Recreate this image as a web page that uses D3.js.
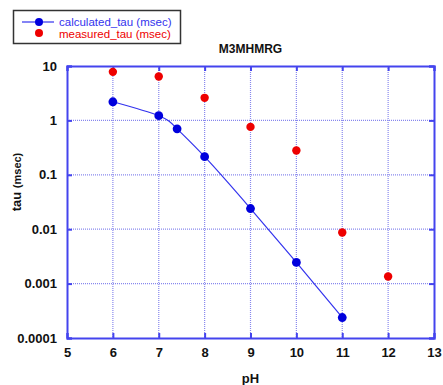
<!DOCTYPE html>
<html><head><meta charset="utf-8">
<script src="https://cdn.jsdelivr.net/npm/d3@7"></script>
<style>
body{margin:0;background:#fff;}
svg{display:block;font-family:"Liberation Sans",Arial,sans-serif;}
</style></head>
<body><svg id="chart" width="443" height="385"></svg>
<script>
// pH values and time constants (msec)
const calcPH  = [6, 7, 7.4, 8, 9, 10, 11];
const calcTau = [2.2, 1.22, 0.70, 0.215, 0.024, 0.00245, 0.000238];
const measPH  = [6, 7, 8, 9, 10, 11, 12];
const measTau = [7.8, 6.4, 2.6, 0.76, 0.28, 0.0087, 0.00135];
const xTicks = [5, 6, 7, 8, 9, 10, 11, 12, 13];
const yTicks = [10, 1, 0.1, 0.01, 0.001, 0.0001];
const yTickLabels = ["10", "1", "0.1", "0.01", "0.001", "0.0001"];

const svg = d3.select("#chart");
const L = 67, R = 434, T = 66, B = 338;
const x = d3.scaleLinear().domain([5, 13]).range([L, R]);
const y = d3.scaleLog().domain([0.0001, 10]).range([B, T]);
const frameCol = "#4444ee", gridCol = "#8888ee";

// dotted grid
const grid = svg.append("g");
grid.selectAll("line.gx").data(xTicks.slice(1, -1)).join("line")
  .attr("x1", d => x(d)).attr("x2", d => x(d)).attr("y1", T).attr("y2", B)
  .attr("stroke", gridCol).attr("stroke-width", 1.2).attr("stroke-dasharray", "1,1");
grid.selectAll("line.gy").data(yTicks.slice(1, -1)).join("line")
  .attr("y1", d => y(d)).attr("y2", d => y(d)).attr("x1", L).attr("x2", R)
  .attr("stroke", gridCol).attr("stroke-width", 1.2).attr("stroke-dasharray", "1,1");

// axes with inward ticks
const axB = svg.append("g").attr("transform", `translate(0,${B})`)
  .call(d3.axisBottom(x).tickValues(xTicks).tickSize(-5).tickPadding(10));
const axT = svg.append("g").attr("transform", `translate(0,${T})`)
  .call(d3.axisTop(x).tickValues(xTicks).tickSize(-5).tickFormat(""));
const axL = svg.append("g").attr("transform", `translate(${L},0)`)
  .call(d3.axisLeft(y).tickValues(yTicks).tickSize(-5).tickPadding(10)
    .tickFormat((d, i) => yTickLabels[i]));
const axR = svg.append("g").attr("transform", `translate(${R},0)`)
  .call(d3.axisRight(y).tickValues(yTicks).tickSize(-5).tickFormat(""));
[axB, axT, axL, axR].forEach(a => {
  a.select(".domain").attr("stroke", frameCol).attr("stroke-width", 2);
  a.selectAll(".tick line").attr("stroke", frameCol).attr("stroke-width", 2);
  a.selectAll(".tick text").attr("fill", "#111").attr("font-size", 13)
    .attr("font-weight", "bold").attr("font-family", "\"Liberation Sans\",Arial,sans-serif");
});

// calculated curve
const calc = calcPH.map((p, i) => [p, calcTau[i]]);
svg.append("path").datum(calc)
  .attr("d", d3.line().x(d => x(d[0])).y(d => y(d[1])).curve(d3.curveNatural))
  .attr("fill", "none").attr("stroke", "#3333ee").attr("stroke-width", 1.2);
svg.selectAll("circle.calc").data(calc).join("circle")
  .attr("cx", d => x(d[0])).attr("cy", d => y(d[1])).attr("r", 4.4).attr("fill", "#0000dd");

// measured points
const meas = measPH.map((p, i) => [p, measTau[i]]);
svg.selectAll("circle.meas").data(meas).join("circle")
  .attr("cx", d => x(d[0])).attr("cy", d => y(d[1])).attr("r", 4.2).attr("fill", "#ee0000");

// title and axis labels
svg.append("text").attr("x", (L + R) / 2).attr("y", 53).attr("text-anchor", "middle")
  .attr("font-size", 12).attr("font-weight", "bold").attr("fill", "#111").text("M3MHMRG");
svg.append("text").attr("x", (L + R) / 2).attr("y", 383).attr("text-anchor", "middle")
  .attr("font-size", 13).attr("font-weight", "bold").attr("fill", "#111").text("pH");
const yl = svg.append("text").attr("transform", `translate(21,182) rotate(-90)`)
  .attr("text-anchor", "middle").attr("font-weight", "bold").attr("fill", "#111");
yl.append("tspan").attr("font-size", 13).text("tau ");
yl.append("tspan").attr("font-size", 11).text("(msec)");

// legend
const lg = svg.append("g");
lg.append("rect").attr("x", 13.5).attr("y", 10.5).attr("width", 167).attr("height", 33)
  .attr("fill", "#fff").attr("stroke", "#333").attr("stroke-width", 1.5);
lg.append("line").attr("x1", 22).attr("x2", 54).attr("y1", 22).attr("y2", 22)
  .attr("stroke", "#3333ee").attr("stroke-width", 1.2);
lg.append("circle").attr("cx", 39).attr("cy", 22).attr("r", 4).attr("fill", "#0000dd");
lg.append("circle").attr("cx", 39).attr("cy", 33).attr("r", 4).attr("fill", "#ee0000");
lg.append("text").attr("x", 59).attr("y", 26).attr("font-size", 11.5).attr("fill", "#3333ee")
  .text("calculated_tau (msec)");
lg.append("text").attr("x", 59).attr("y", 37.5).attr("font-size", 11.5).attr("fill", "#ee0000")
  .text("measured_tau (msec)");
</script></body></html>
